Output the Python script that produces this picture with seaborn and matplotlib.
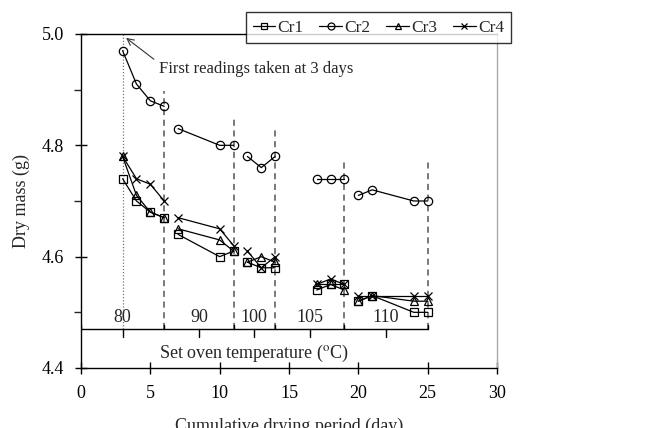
import numpy as np
import pandas as pd
import matplotlib
matplotlib.use("Agg")
import matplotlib.pyplot as plt
import seaborn as sns
from matplotlib.lines import Line2D

sns.set_theme(style="white")
plt.rcParams['font.family'] = ['Liberation Serif', 'DejaVu Serif']
plt.rcParams['mathtext.fontset'] = 'stix'

# ---- data ----
days = [3, 4, 5, 6, 7, 10, 11, 12, 13, 14, 17, 18, 19, 20, 21, 24, 25]
period = [80, 80, 80, 80, 90, 90, 90, 100, 100, 100, 105, 105, 105, 110, 110, 110, 110]
cr1 = [4.74, 4.70, 4.68, 4.67, 4.64, 4.60, 4.61, 4.59, 4.58, 4.58, 4.54, 4.55, 4.55, 4.52, 4.53, 4.50, 4.50]
cr2 = [4.97, 4.91, 4.88, 4.87, 4.83, 4.80, 4.80, 4.78, 4.76, 4.78, 4.74, 4.74, 4.74, 4.71, 4.72, 4.70, 4.70]
cr3 = [4.78, 4.71, 4.68, 4.67, 4.65, 4.63, 4.61, 4.59, 4.60, 4.59, 4.55, 4.55, 4.54, 4.52, 4.53, 4.52, 4.52]
cr4 = [4.78, 4.74, 4.73, 4.70, 4.67, 4.65, 4.62, 4.61, 4.58, 4.60, 4.55, 4.56, 4.55, 4.53, 4.53, 4.53, 4.53]
series_names = ["Cr1", "Cr2", "Cr3", "Cr4"]
series_vals = [cr1, cr2, cr3, cr4]
markers = ["s", "o", "^", "x"]

temps = ["80", "90", "100", "105", "110"]
temp_bounds = [0, 6, 11, 14, 19, 25]
dash_tops = [4.898, 4.851, 4.828, 4.774, 4.774]
bracket_y = 4.47

fig = plt.figure(figsize=(6.69, 4.28), dpi=100)
ax = fig.add_axes([0.1211, 0.1402, 0.6218, 0.7804])

for name, vals, mk in zip(series_names, series_vals, markers):
    df = pd.DataFrame({"day": days, "mass": vals, "period": period})
    sns.lineplot(data=df, x="day", y="mass", units="period", estimator=None,
                 ax=ax, color="black", lw=0.9, marker=mk, ms=6,
                 mfc="none", mec="black", mew=0.9, legend=False, zorder=3)

# vertical dashed lines at boundaries
for xb, top in zip(temp_bounds[1:], dash_tops):
    ax.plot([xb, xb], [bracket_y, top], ls=(0, (4, 3)), color="#555555", lw=1.1, zorder=2)

# dotted line at day 3
ax.plot([3, 3], [bracket_y, 5.0], ls=(0, (1, 1.5)), color="#777777", lw=0.9, zorder=2)

# bracket
ax.plot([0, 25], [bracket_y, bracket_y], color="black", lw=1.0, zorder=2)
for xb in temp_bounds:
    ax.plot([xb, xb], [bracket_y, bracket_y + 0.008], color="black", lw=1.0)
for i, t in enumerate(temps):
    xm = (temp_bounds[i] + temp_bounds[i + 1]) / 2
    ax.plot([xm, xm], [bracket_y, bracket_y - 0.015], color="black", lw=1.0)
    ax.text(xm, bracket_y + 0.006, t, ha="center", va="bottom", fontsize=13)
ax.text(12.5, 4.427, "Set oven temperature ($^{\\rm o}$C)", ha="center", va="center", fontsize=13)

# annotation
ax.annotate("First readings taken at 3 days", xy=(3.25, 4.993), xytext=(5.65, 4.937),
            fontsize=12, ha="left", va="center",
            arrowprops=dict(arrowstyle="->", color="#333333", lw=0.8, shrinkA=2, shrinkB=0,
                            relpos=(0, 0.85)))

ax.set_xlim(0, 30)
ax.set_ylim(4.4, 5.0)
ax.set_xticks([0, 5, 10, 15, 20, 25, 30])
ax.set_yticks([4.4, 4.6, 4.8, 5.0])
ax.set_yticks([4.5, 4.7, 4.9], minor=True)
ax.set_yticklabels(["4.4", "4.6", "4.8", "5.0"])
ax.tick_params(axis="both", which="major", direction="inout", length=9, width=1, labelsize=13,
               colors="black", bottom=True, left=True)
ax.tick_params(axis="x", which="major", pad=8)
ax.tick_params(axis="y", which="major", pad=8)
ax.tick_params(axis="y", which="minor", direction="out", length=5, width=1, left=True)
ax.set_xlabel("Cumulative drying period (day)", fontsize=13, labelpad=11)
ax.set_ylabel("Dry mass (g)", fontsize=13, labelpad=8)

for s in ["left", "bottom", "top"]:
    ax.spines[s].set_color("black")
    ax.spines[s].set_linewidth(1.0)
ax.spines["right"].set_color("#aaaaaa")
ax.spines["right"].set_linewidth(1.0)

handles = [Line2D([], [], color="black", lw=0.9, marker=m, ms=5, mfc="none", mec="black", mew=0.9)
           for m in markers]
leg = fig.legend(handles, series_names, loc="center", bbox_to_anchor=(0.5658, 0.9357),
                 ncol=4, fontsize=12.5, frameon=True, fancybox=False, handlelength=1.3,
                 handletextpad=0.15, columnspacing=0.9, borderpad=0.4, edgecolor="black")
leg.get_frame().set_linewidth(1.0)

fig.savefig("out.png", dpi=100)
